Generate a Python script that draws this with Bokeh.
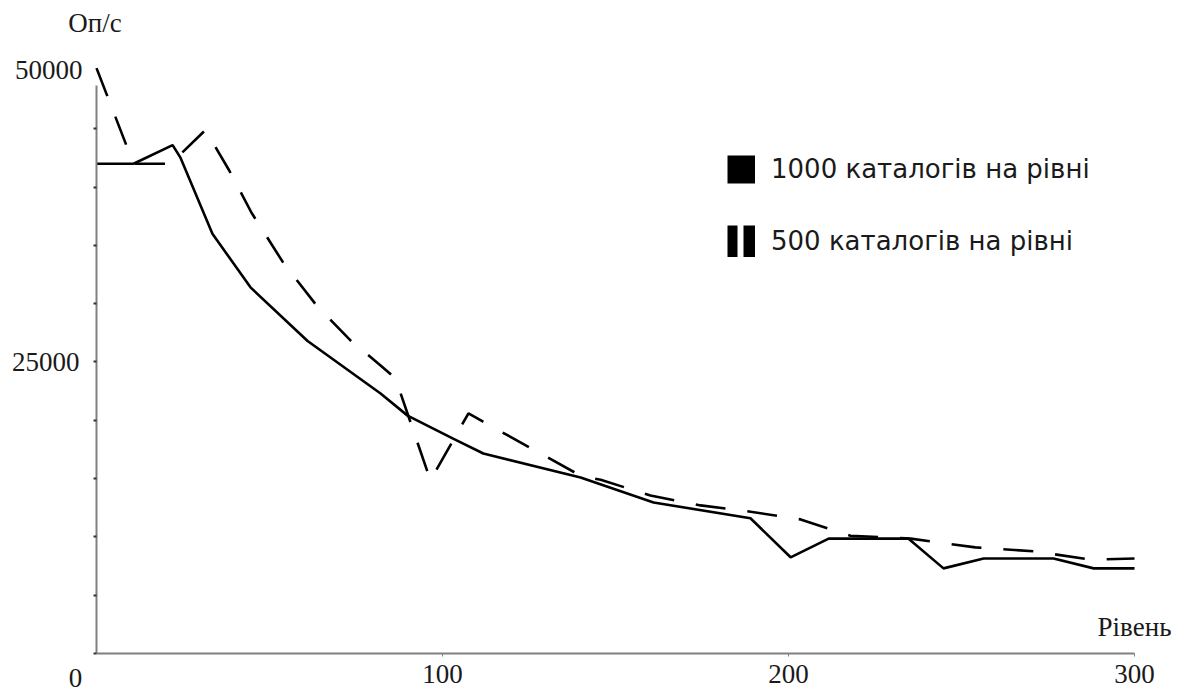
from bokeh.plotting import figure
from bokeh.models import LinearAxis, FixedTicker, Range1d, Label, Legend, LegendItem
from bokeh.embed import file_html
from bokeh.resources import INLINE

# ---- data ----
x_1000 = [0, 10.7, 22.0, 24.3, 33.5, 44.5, 61.0, 82.1, 89.9, 103.2, 111.8, 139.9,
          161.0, 189.0, 200.6, 211.6, 234.7, 244.8, 256.4, 276.6, 288.2, 300]
y_1000 = [42000, 42000, 43600, 42500, 36000, 31400, 26800, 22300, 20400, 18400, 17150, 15100,
          12950, 11600, 8250, 9850, 9850, 7300, 8150, 8150, 7300, 7300]

x_500 = [0, 10.7, 21.4, 31.5, 38.4, 44.8, 54.0, 63.6, 73.4, 82.1, 86.4, 96.5, 107.5, 111.6,
         139.9, 145.7, 160.1, 174.6, 187.0, 203.5, 217.9, 235.3, 254.0, 271.4, 287.3, 300]
y_500 = [50200, 42000, 42000, 44900, 41400, 37800, 33500, 29850, 26850, 24700, 23600, 14850,
         20600, 19900, 15250, 14900, 13550, 12700, 12250, 11500, 10100, 9850, 9100, 8750, 8050, 8150]

label_1000 = "1000 каталогів на рівні"
label_500 = "500 каталогів на рівні"
x_ticks = [100, 200, 300]
y_major = [25000]
y_minor = [0, 5000, 10000, 15000, 20000, 30000, 35000, 40000, 45000]
x_title = "Рівень"
y_title = "Оп/с"
y_top_label = "50000"
origin_label = "0"

SERIF = "Liberation Serif"
AX_COLOR = "#808080"
TXT_COLOR = "#1a1a1a"

W, H = 1179, 693
p = figure(width=W, height=H, output_backend="svg", toolbar_location=None,
           x_axis_type=None, y_axis_type=None,
           x_range=Range1d(-27.75, 313.0), y_range=Range1d(-3430, 56001),
           min_border=0, min_border_left=0, min_border_right=0,
           min_border_top=0, min_border_bottom=0,
           outline_line_color=None, background_fill_color="white")

# x axis
xaxis = LinearAxis(fixed_location=0, ticker=FixedTicker(ticks=x_ticks), bounds=(0, 300))
xaxis.axis_line_color = AX_COLOR
xaxis.axis_line_width = 2
xaxis.major_tick_in = 0
xaxis.major_tick_out = 3
xaxis.major_tick_line_color = AX_COLOR
xaxis.minor_tick_line_color = None
xaxis.major_label_standoff = 8
xaxis.major_label_text_font = SERIF
xaxis.major_label_text_font_size = "27px"
xaxis.major_label_text_color = TXT_COLOR
p.add_layout(xaxis, "below")

# y axis
yaxis = LinearAxis(fixed_location=0,
                   ticker=FixedTicker(ticks=y_major, minor_ticks=y_minor),
                   bounds=(0, 48700))
yaxis.axis_line_color = AX_COLOR
yaxis.axis_line_width = 2
yaxis.major_tick_in = 0
yaxis.major_tick_out = 3
yaxis.minor_tick_in = 0
yaxis.minor_tick_out = 3
yaxis.major_tick_line_color = "#333333"
yaxis.minor_tick_line_color = "#333333"
yaxis.major_tick_line_width = 2
yaxis.minor_tick_line_width = 2
yaxis.major_label_standoff = 14
yaxis.major_label_text_font = SERIF
yaxis.major_label_text_font_size = "27px"
yaxis.major_label_text_color = TXT_COLOR
p.add_layout(yaxis, "left")

# series
p.line(x_1000, y_1000, line_color="black", line_width=2.6)
p.line(x_500, y_500, line_color="black", line_width=2.6, line_dash="30 22")

# extra axis texts
common = dict(text_font=SERIF, text_font_size="27px", text_color=TXT_COLOR)
p.add_layout(Label(x=0, y=50000, text=y_top_label, x_offset=-14, text_align="right",
                   text_baseline="middle", **common))
p.add_layout(Label(x=0, y=0, text=origin_label, x_offset=-21, y_offset=-24, text_align="center",
                   text_baseline="middle", **common))
p.add_layout(Label(x=0, y=50000, text=y_title, x_offset=-1.5, y_offset=47, text_align="center",
                   text_baseline="middle", **common))
p.add_layout(Label(x=300, y=0, text=x_title, x_offset=0, y_offset=27, text_align="center",
                   text_baseline="middle", **common))

# legend with swatch-like glyphs (hidden copies of the series, drawn only in the legend)
r_leg1 = p.line(x_1000, y_1000, line_color="black", line_width=28, visible=False)
r_leg2 = p.line(x_500, y_500, line_color="black", line_width=32,
                line_dash="10 6 12 40", visible=False)
legend = Legend(items=[LegendItem(label=label_1000, renderers=[r_leg1]),
                       LegendItem(label=label_500, renderers=[r_leg2])],
                location=(727, 436), orientation="vertical",
                glyph_width=28, glyph_height=32, label_standoff=16, spacing=40,
                padding=0, margin=0, border_line_color=None, background_fill_alpha=0,
                label_text_font="DejaVu Sans", label_text_font_size="26px",
                label_text_color=TXT_COLOR)
p.add_layout(legend)

open("out.html", "w").write(file_html(p, INLINE))
